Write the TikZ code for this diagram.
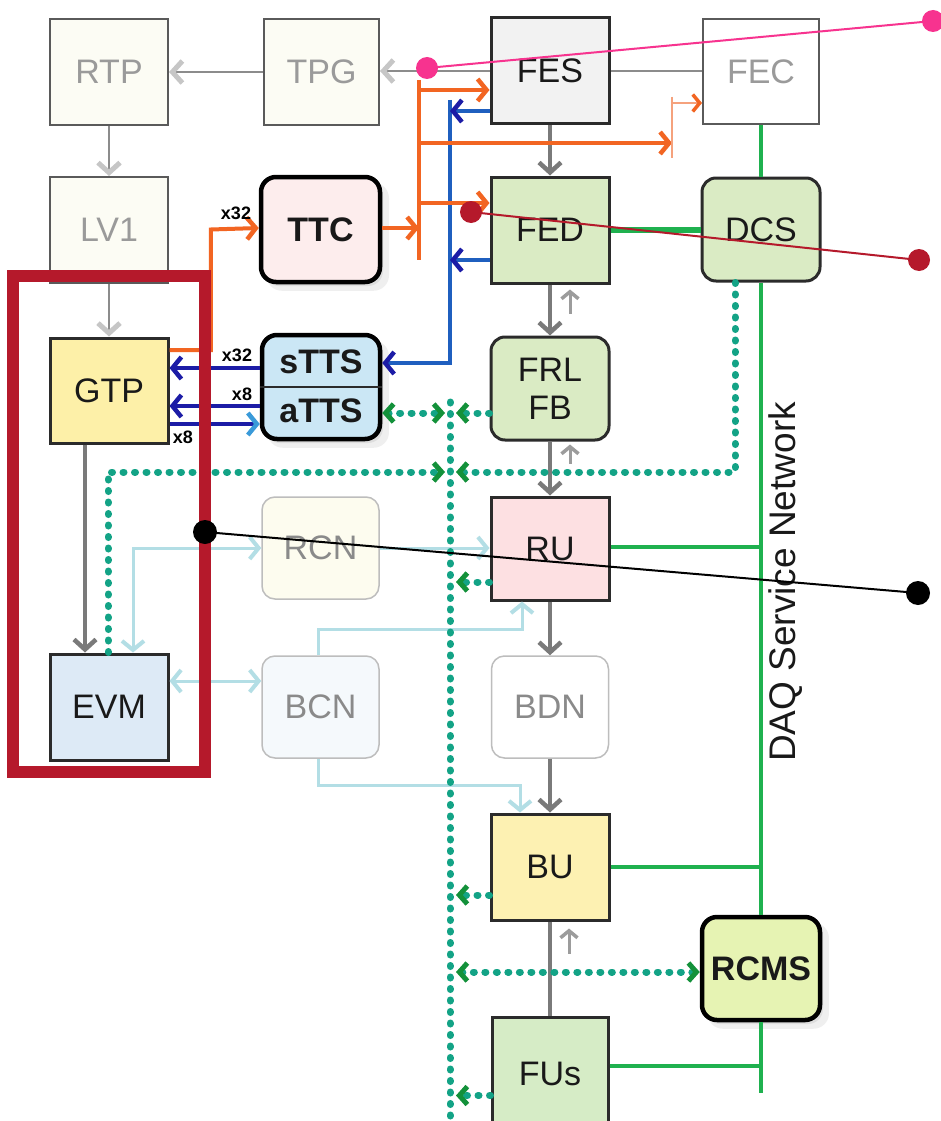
\documentclass[tikz,border=0pt]{standalone}
\usepackage{fontspec}
\setmainfont{Liberation Sans}
\usetikzlibrary{arrows.meta,shadows}
\definecolor{boxline}{HTML}{2B2B2B}
\definecolor{faintline}{HTML}{5A5A5A}
\definecolor{fainttext}{HTML}{9A9A9A}
\definecolor{lightline}{HTML}{BDBDBD}
\definecolor{midgray}{HTML}{8A8A8A}
\definecolor{cream}{HTML}{FCFCF4}
\definecolor{gtpfill}{HTML}{FDF0A8}
\definecolor{evmfill}{HTML}{DDEAF6}
\definecolor{ttcfill}{HTML}{FDEDED}
\definecolor{ttsfill}{HTML}{CBE7F5}
\definecolor{fesfill}{HTML}{F2F2F2}
\definecolor{ltgreen}{HTML}{DAEBC4}
\definecolor{rufill}{HTML}{FDE0E2}
\definecolor{rcnfill}{HTML}{FDFCEF}
\definecolor{bcnfill}{HTML}{F5F9FC}
\definecolor{bufill}{HTML}{FDF1B2}
\definecolor{fufill}{HTML}{D6ECC6}
\definecolor{rcmsfill}{HTML}{E6F3B3}
\definecolor{gline}{HTML}{7A7A7A}
\definecolor{gline2}{HTML}{8C8C8C}
\definecolor{gfaint}{HTML}{C6C6C6}
\definecolor{gsmall}{HTML}{9C9C9C}
\definecolor{orng}{HTML}{F26522}
\definecolor{orngthin}{HTML}{F5A27D}
\definecolor{bluemid}{HTML}{1F5FBF}
\definecolor{navy}{HTML}{1C1CA6}
\definecolor{tipblue}{HTML}{3A9AD9}
\definecolor{dotteal}{HTML}{13A386}
\definecolor{dgreen}{HTML}{13913A}
\definecolor{grn}{HTML}{1FB14F}
\definecolor{lblue}{HTML}{B3DEE5}
\definecolor{framered}{HTML}{B5192B}
\definecolor{pinkdot}{HTML}{F7338F}
\definecolor{darkred}{HTML}{B5192B}
\tikzset{
  basebox/.style={rectangle, inner sep=0pt, text=black!90},
  box/.style={basebox, draw=boxline, line width=3pt},
  fbox/.style={basebox, draw=faintline, line width=2pt, fill=cream, text=fainttext},
  lbox/.style={basebox, rounded corners=13pt, draw=lightline, line width=1.5pt, text=midgray},
  rbox/.style={box, rounded corners=14pt},
  hbox/.style={basebox, rounded corners=15pt, draw=black, line width=4.5pt,
     font=\bfseries\fontsize{34}{38}\selectfont,
     drop shadow={opacity=0.12, shadow xshift=7pt, shadow yshift=-7pt, shadow scale=1.03},
     drop shadow={opacity=0.15, shadow xshift=3pt, shadow yshift=-4pt}},
  lbl/.style={font=\bfseries\fontsize{18}{20}\selectfont, inner sep=0pt, text=black},
  garrow/.style={draw=gline, line width=4pt, -{Straight Barb[length=10pt,width=22pt,line width=4.5pt]}},
  fgarrow/.style={draw=gline2, line width=2pt, -{Straight Barb[length=10pt,width=22pt,line width=5pt,color=gfaint]}},
  smallup/.style={draw=gsmall, line width=3pt, -{Straight Barb[length=7pt,width=17pt,line width=3.5pt]}},
  oarrow/.style={draw=orng, line width=4pt, -{Straight Barb[length=9pt,width=22pt,line width=4.5pt]}},
  othin/.style={draw=orngthin, line width=2pt, -{Straight Barb[length=7pt,width=17pt,line width=3.5pt,color=orng]}},
  barrow/.style={draw=bluemid, line width=4pt, -{Straight Barb[length=9pt,width=22pt,line width=4.5pt,color=navy]}},
  narrow/.style={draw=navy, line width=4pt, -{Straight Barb[length=9pt,width=22pt,line width=4.5pt]}},
  gnet/.style={draw=grn, line width=4.5pt},
  dots/.style={draw=dotteal, line width=7pt, line cap=round, dash pattern=on 1pt off 10.5pt},
  dtip/.style={-{Straight Barb[length=8pt,width=18pt,line width=5pt,color=dgreen]}},
  dtipboth/.style={{Straight Barb[length=8pt,width=18pt,line width=5pt,color=dgreen]}-{Straight Barb[length=8pt,width=18pt,line width=5pt,color=dgreen]}},
  lbarrow/.style={draw=lblue, line width=3pt, -{Straight Barb[length=9pt,width=22pt,line width=4pt]}},
  lbboth/.style={draw=lblue, line width=3pt, {Straight Barb[length=9pt,width=22pt,line width=4pt]}-{Straight Barb[length=9pt,width=22pt,line width=4pt]}},
}
\begin{document}
\begin{tikzpicture}[x=1pt,y=-1pt,font=\fontsize{34}{38}\selectfont]
\useasboundingbox (0,0) rectangle (941,1121);
\fill[white] (0,0) rectangle (941,1121);

% ---------- nodes ----------
\node[fbox, minimum width=118pt, minimum height=106pt] (RTP) at (109,72) {RTP};
\node[fbox, minimum width=115pt, minimum height=106pt] (TPG) at (321.5,72) {TPG};
\node[fbox, minimum width=118pt, minimum height=106pt] (LV1) at (109,230) {LV1};
\node[box, fill=gtpfill, minimum width=118pt, minimum height=105pt] (GTP) at (109,390.5) {GTP};
\node[box, fill=evmfill, minimum width=118pt, minimum height=106pt] (EVM) at (109,707) {EVM};
\node[hbox, fill=ttcfill, minimum width=119pt, minimum height=105pt] (TTC) at (320.5,229.5) {TTC};
\node[hbox, fill=ttsfill, minimum width=118pt, minimum height=104pt] (TTS) at (321,387) {};
\draw[line width=2pt, draw=boxline] (TTS.west) -- (TTS.east);
\node[basebox, font=\bfseries\fontsize{34}{38}\selectfont] (sTTS) at (321,362) {sTTS};
\node[basebox, font=\bfseries\fontsize{34}{38}\selectfont] (aTTS) at (321,411) {aTTS};
\node[lbox, fill=rcnfill, minimum width=117pt, minimum height=102pt] (RCN) at (320.5,548) {RCN};
\node[lbox, fill=bcnfill, minimum width=117pt, minimum height=102pt] (BCN) at (320.5,707) {BCN};

\node[box, fill=fesfill, minimum width=118pt, minimum height=106pt] (FES) at (550,71) {FES};
\node[fbox, fill=white, minimum width=116pt, minimum height=105pt] (FEC) at (761,71.5) {FEC};
\node[box, fill=ltgreen, minimum width=118pt, minimum height=106pt] (FED) at (550,230) {FED};
\node[rbox, fill=ltgreen, minimum width=118pt, minimum height=103pt] (DCS) at (761,229.5) {DCS};
\node[rbox, fill=ltgreen, minimum width=118pt, minimum height=103pt, align=center] (FRL) at (550,388.5) {FRL\\FB};
\node[box, fill=rufill, minimum width=118pt, minimum height=103pt] (RU) at (550,548.5) {RU};
\node[lbox, fill=white, minimum width=117pt, minimum height=102pt] (BDN) at (550,707) {BDN};
\node[box, fill=bufill, minimum width=118pt, minimum height=106pt] (BU) at (550,867) {BU};
\node[box, fill=fufill, minimum width=116pt, minimum height=113pt] (FUs) at (550,1073.5) {FUs};
\node[hbox, fill=rcmsfill, minimum width=118pt, minimum height=103pt] (RCMS) at (761,968.5) {RCMS};

\node[rotate=90, basebox, font=\fontsize{37}{40}\selectfont, text=black!90] (DAQ) at (786,582) {DAQ Service Network};

% ---------- gray data flow ----------
\draw[fgarrow] (FES.west) -- (FES.west -| TPG.east);
\draw[draw=gline2, line width=2pt] (FES.east) -- (FES.east -| FEC.west);
\draw[fgarrow] (TPG.west) -- (TPG.west -| RTP.east);
\draw[fgarrow] (RTP.south) -- (LV1.north);
\draw[fgarrow] (LV1.south) -- (GTP.north);
\draw[garrow] (FES.south) -- (FED.north);
\draw[garrow] (FED.south) -- (FRL.north);
\draw[garrow] (FRL.south) -- (RU.north);
\draw[garrow] (RU.south) -- (BDN.north);
\draw[garrow] (BDN.south) -- (BU.north);
\draw[draw=gline, line width=4pt] (BU.south) -- (FUs.north);
\draw[garrow] ([xshift=-24pt]GTP.south) -- ([xshift=-24pt]EVM.north);
\draw[smallup, shorten <=22pt, shorten >=5pt] ([xshift=20pt]FRL.north) -- ([xshift=20pt]FED.south);
\draw[smallup, shorten <=32pt, shorten >=3pt] ([xshift=20pt]RU.north) -- ([xshift=20pt]FRL.south);
\draw[smallup, shorten <=62pt, shorten >=7pt] ([xshift=19pt]FUs.north) -- ([xshift=19pt]BU.south);

% ---------- light blue builder network ----------
\draw[lbboth] ([xshift=24pt]EVM.north) |- (RCN.west);
\draw[lbarrow] (RCN.east) -- (RCN.east -| RU.west);
\draw[lbboth] ([yshift=26pt]EVM.east) -- ([yshift=26pt]EVM.east -| BCN.west);
\draw[lbarrow] ([xshift=-2pt]BCN.north) -- ++(0,-26) -| ([xshift=-28pt]RU.south);
\draw[lbarrow] ([xshift=-2pt]BCN.south) -- ++(0,27) -| ([xshift=-30pt]BU.north);

% ---------- blue TTS ----------
\coordinate (btop) at (450,100);
\draw[barrow] (btop) |- ([yshift=24pt]TTS.east);
\draw[barrow] ([yshift=-40pt]FES.west) -- ([yshift=-40pt]FES.west -| btop);
\draw[barrow] ([yshift=-30pt]FED.west) -- ([yshift=-30pt]FED.west -| btop);
\draw[narrow] ([yshift=19pt]TTS.west) -- ([yshift=19pt]TTS.west -| GTP.east);
\draw[narrow] ([yshift=-19pt]TTS.west) -- ([yshift=-19pt]TTS.west -| GTP.east);
\draw[draw=navy, line width=4pt, -{Straight Barb[length=9pt,width=22pt,line width=4.5pt,color=tipblue]}] ([yshift=-33.5pt]GTP.east) -- ([yshift=-33.5pt]GTP.east -| TTS.west);
\node[lbl] (l32b) at (237,355) {x32};
\node[lbl] (l8a) at (242,394) {x8};
\node[lbl] (l8b) at (183,437) {x8};

% ---------- orange TTC ----------
\coordinate (obtop) at (419,80);
\coordinate (obbot) at (419,260);
\coordinate (ob1) at (419,90);
\coordinate (ob2) at (419,143);
\coordinate (ob3) at (419,203);
\coordinate (fecbar) at (672,143);
\draw[draw=orng, line width=4pt] (obtop) -- (obbot);
\draw[oarrow] ([yshift=40.5pt]GTP.east) -| ([xshift=-48pt]TTC.west) -- ([yshift=1.5pt]TTC.west);
\node[lbl] (l32a) at (236,213) {x32};
\draw[oarrow] ([yshift=1.5pt]TTC.east) -- ([yshift=1.5pt]TTC.east -| obtop);
\draw[oarrow] (ob1) -- (ob1 -| FES.west);
\draw[oarrow] (ob2) -- (fecbar);
\draw[oarrow] (ob3) -- (ob3 -| FED.west);
\draw[draw=orngthin, line width=2pt] ([yshift=46pt]fecbar) -- ([yshift=-15pt]fecbar);
\draw[othin] ([yshift=40pt]fecbar) -- ([yshift=40pt]fecbar -| FEC.west);

% ---------- green service network ----------
\coordinate (netend) at (761,1093);
\draw[gnet] (FEC.south) -- (DCS.north);
\draw[gnet] (DCS.south) -- (RCMS.north);
\draw[gnet] (RCMS.south) -- (netend);
\draw[gnet, line width=5.5pt] (FED.east) -- (FED.east -| DCS.west);
\draw[gnet] ([yshift=1.5pt]RU.east) -- ([yshift=1.5pt]RU.east -| netend);
\draw[gnet] (BU.east) -- (BU.east -| netend);
\draw[gnet] ([yshift=7.5pt]FUs.east) -- ([yshift=7.5pt]FUs.east -| netend);

% ---------- dotted control bus ----------
\coordinate (bus) at (450,402);
\coordinate (busend) at (450,1125);
\draw[dots] (bus) -- (busend);
\draw[dots, dtipboth] ([yshift=-26pt]TTS.east) -- ([yshift=-26pt,xshift=-5pt]TTS.east -| bus);
\draw[dots, dtip] ([yshift=-24.5pt]FRL.west) -- ([yshift=-24.5pt,xshift=6pt]FRL.west -| bus);
\draw[dots, dtip] ([xshift=-1pt]EVM.north) |- ([xshift=-5pt]bus |- 0,472);
\draw[dots, dtip] ([xshift=-26pt]DCS.south) |- ([xshift=6pt]bus |- 0,472);
\draw[dots, dtip] ([yshift=-33.5pt]RU.west) -- ([yshift=-33.5pt,xshift=6pt]RU.west -| bus);
\draw[dots, dtip] ([yshift=-28pt]BU.west) -- ([yshift=-28pt,xshift=6pt]BU.west -| bus);
\draw[dots, dtip] ([yshift=-22pt]FUs.west) -- ([yshift=-22pt,xshift=6pt]FUs.west -| bus);
\draw[dots, dtipboth] ([yshift=-3.5pt,xshift=6pt]RCMS.west -| bus) -- ([yshift=-3.5pt]RCMS.west);

% ---------- highlight frame ----------
\draw[draw=framered, line width=12pt] (13,276) rectangle (205,772);

% ---------- pointers ----------
\coordinate (p1a) at (427,68);
\coordinate (p1b) at (933,21);
\coordinate (p2a) at (471,212);
\coordinate (p2b) at (919,260);
\coordinate (p3a) at (205,532);
\coordinate (p3b) at (918,593);
\draw[draw=pinkdot, line width=2pt] (p1a) -- (p1b);
\fill[pinkdot] (p1a) circle (11pt) (p1b) circle (11pt);
\draw[draw=darkred, line width=2pt] (p2a) -- (p2b);
\fill[darkred] (p2a) circle (11pt) (p2b) circle (11pt);
\draw[draw=black, line width=2pt] (p3a) -- (p3b);
\fill[black] (p3a) circle (12pt) (p3b) circle (12pt);
\end{tikzpicture}
\end{document}
